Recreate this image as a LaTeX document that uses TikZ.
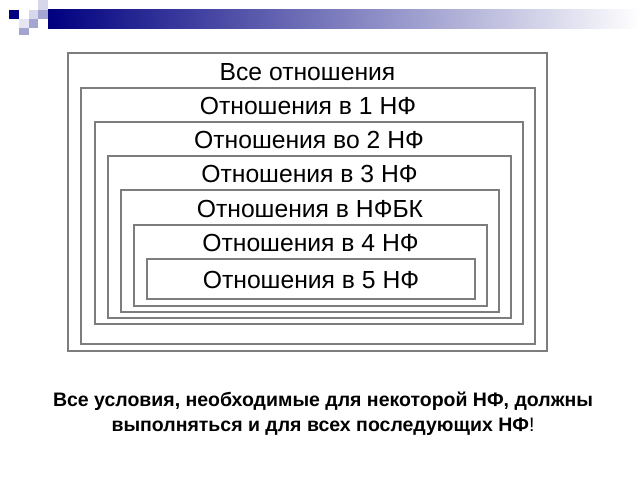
\documentclass[tikz,border=0pt]{standalone}
\usepackage{fontspec}
\setmainfont{Liberation Sans}
\definecolor{navy}{RGB}{0,0,128}
\definecolor{boxgray}{RGB}{125,125,125}
\definecolor{sqlight}{RGB}{215,215,235}
\definecolor{sqmid}{RGB}{165,165,210}
\definecolor{sqpale}{RGB}{230,230,242}
\begin{document}
\begin{tikzpicture}[x=1pt,y=-1pt,
  setbox/.style={draw=boxgray,line width=1.3pt},
  setlabel/.style={font=\fontsize{24.7}{28}\selectfont,text=black,inner sep=0pt},
  note/.style={font=\fontsize{19.5}{24.5}\selectfont\bfseries,align=center,inner sep=0pt}]
\useasboundingbox[fill=white] (0,0) rectangle (640,480);
% decoration
\shade[left color=navy,right color=white] (48,9.5) rectangle (640,28);
\fill[navy] (9,10) rectangle (19,19);
\fill[sqlight] (29,10) rectangle (38,19);
\fill[sqlight] (38,0) rectangle (48,10);
\fill[sqmid] (38,10) rectangle (48,19);
\fill[sqmid] (29,19) rectangle (38,28);
\fill[sqpale] (19,19) rectangle (29,28);
\fill[sqmid] (19,28) rectangle (29,35);
% boxes
\draw[setbox] (68,53) rectangle (547,351);
\draw[setbox] (81,88) rectangle (535,344);
\draw[setbox] (95,122) rectangle (523,324);
\draw[setbox] (108,156) rectangle (511,318);
\draw[setbox] (121,190) rectangle (499,312);
\draw[setbox] (134,225) rectangle (487,306);
\draw[setbox] (147,259) rectangle (475,299);
% labels
\node[setlabel] (l1) at (307.5,72) {Все отношения};
\node[setlabel] (l2) at (308,106) {Отношения в 1 НФ};
\node[setlabel] (l3) at (309,140) {Отношения во 2 НФ};
\node[setlabel] (l4) at (309.5,174) {Отношения в 3 НФ};
\node[setlabel] (l5) at (310,208.5) {Отношения в НФБК};
\node[setlabel] (l6) at (310.5,243) {Отношения в 4 НФ};
\node[setlabel] (l7) at (311,279.5) {Отношения в 5 НФ};
% note
\node[note] (n) at (323,414) {Все условия, необходимые для некоторой НФ, должны\\выполняться и для всех последующих НФ\textmd{!}};
\end{tikzpicture}
\end{document}
